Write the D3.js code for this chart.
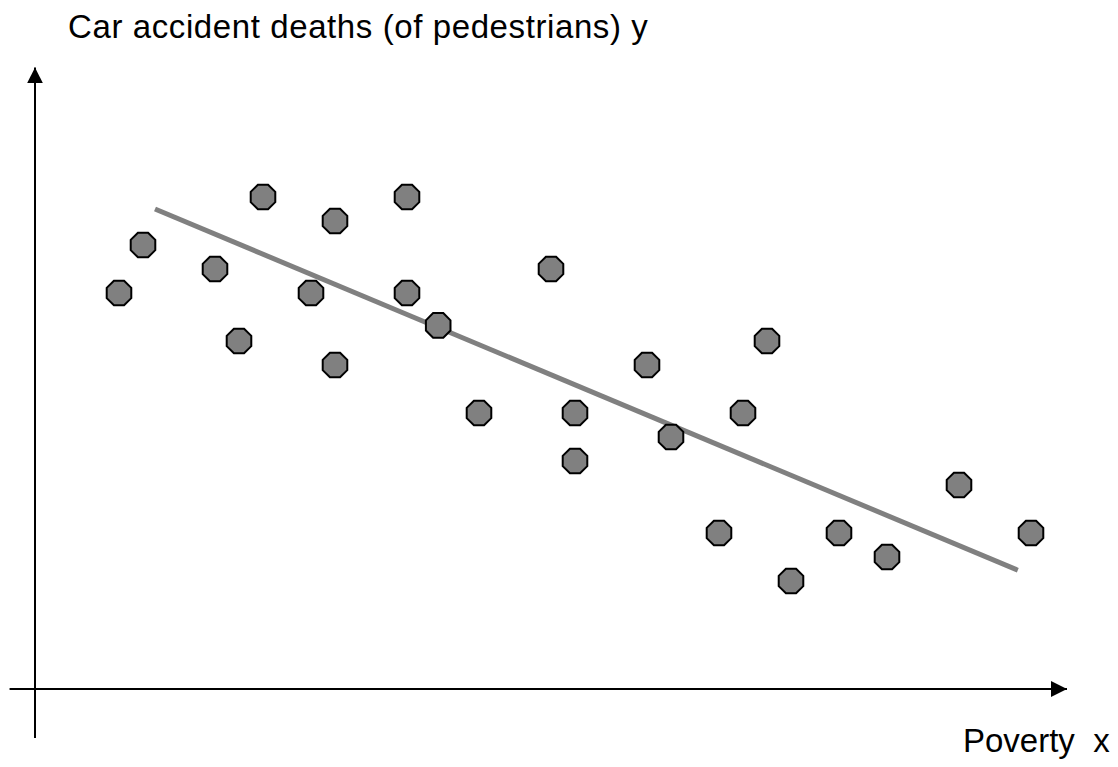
<!DOCTYPE html>
<html>
<head>
<meta charset="utf-8">
<script src="https://cdn.jsdelivr.net/npm/d3@7"></script>
<style>
  body { margin: 0; background: #fff; }
  text { font-family: "Liberation Sans", Arial, sans-serif; fill: #000; }
</style>
</head>
<body>
<script>
// poverty (x) vs pedestrian car accident deaths (y), arbitrary units
const povertyX = [4, 5, 8, 9, 10, 12, 13, 13, 16, 16, 17.3, 19, 22, 23, 23, 26, 27, 29, 30, 31, 32, 34, 36, 39, 42];
const deathsY  = [17, 19, 18, 15, 21, 17, 20, 14, 21, 17, 15.65, 12, 18, 12, 10, 14, 11, 7, 12, 15, 5, 7, 6, 9, 7];

// fitted line end points
const fitX = [5.5, 41.45];
const fitY = [20.5, 5.45];

const xLabel = "Poverty  x";
const yLabel = "Car accident deaths (of pedestrians) y";

const width = 1118, height = 767;

const svg = d3.select("body").append("svg")
    .attr("width", width)
    .attr("height", height);

const x = d3.scaleLinear().domain([0, 44]).range([23, 1079]);
const y = d3.scaleLinear().domain([0, 26]).range([701, 77]);

const defs = svg.append("defs");
defs.append("marker")
    .attr("id", "arrow")
    .attr("viewBox", "0 0 10 10")
    .attr("refX", 10).attr("refY", 5)
    .attr("markerWidth", 16).attr("markerHeight", 16)
    .attr("markerUnits", "userSpaceOnUse")
    .attr("orient", "auto")
    .append("path")
    .attr("d", "M0,0 L10,5 L0,10 Z")
    .attr("fill", "#000");

// axes
svg.append("line")
    .attr("x1", x(-0.56)).attr("y1", y(0.5))
    .attr("x2", x(43.5)).attr("y2", y(0.5))
    .attr("stroke", "#000").attr("stroke-width", 2)
    .attr("marker-end", "url(#arrow)");

svg.append("line")
    .attr("x1", x(0.5)).attr("y1", y(-1.54))
    .attr("x2", x(0.5)).attr("y2", y(26.4))
    .attr("stroke", "#000").attr("stroke-width", 2)
    .attr("marker-end", "url(#arrow)");

// regression line
svg.append("line")
    .attr("x1", x(fitX[0])).attr("y1", y(fitY[0]))
    .attr("x2", x(fitX[1])).attr("y2", y(fitY[1]))
    .attr("stroke", "#808080").attr("stroke-width", 5);

// octagon markers
const r = 13.3;
const octagon = d3.range(8).map(i => {
    const a = Math.PI / 8 + i * Math.PI / 4;
    return [r * Math.cos(a), r * Math.sin(a)];
});
const octPath = "M" + octagon.map(p => p.join(",")).join("L") + "Z";

svg.append("g")
    .selectAll("path")
    .data(povertyX.map((d, i) => [d, deathsY[i]]))
    .join("path")
    .attr("transform", d => `translate(${x(d[0])},${y(d[1])})`)
    .attr("d", octPath)
    .attr("fill", "#808080")
    .attr("stroke", "#000")
    .attr("stroke-width", 2);

// labels
svg.append("text")
    .attr("x", 68).attr("y", 38)
    .attr("font-size", 33)
    .attr("letter-spacing", 0.6)
    .text(yLabel);

svg.append("text")
    .attr("x", 963).attr("y", 752)
    .attr("font-size", 33)
    .style("white-space", "pre")
    .text(xLabel);
</script>
</body>
</html>
